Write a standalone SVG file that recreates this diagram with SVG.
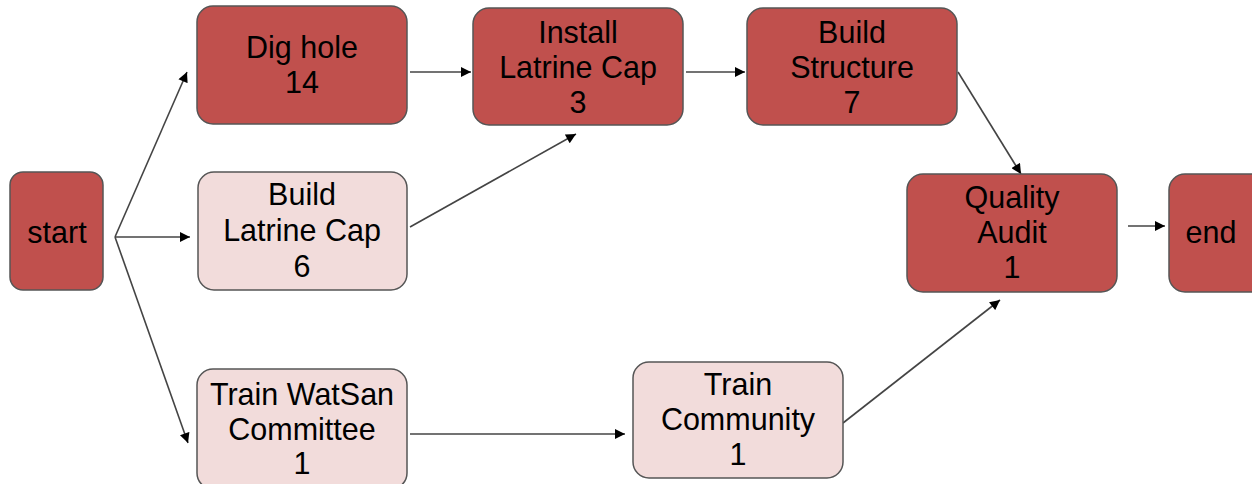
<svg xmlns="http://www.w3.org/2000/svg" width="1252" height="484" viewBox="0 0 1252 484">
  <defs>
    <marker id="arrow" viewBox="0 0 10 10" refX="10" refY="5" markerWidth="11" markerHeight="10" markerUnits="userSpaceOnUse" orient="auto">
      <path d="M0,0 L10,5 L0,10 z" fill="#000"/>
    </marker>
    <style>
      .task rect { stroke: #555; stroke-width: 1.5; }
      .crit rect { fill: #C0504D; }
      .slack rect { fill: #F2DCDB; }
      .task text { font-family: "Liberation Sans", Arial, sans-serif; font-size: 30.5px; fill: #000; text-anchor: middle; }
      .edges line { stroke: #444; stroke-width: 1.6; marker-end: url(#arrow); }
    </style>
  </defs>
  <rect width="1252" height="484" fill="#fff"/>

  <g class="edges">
    <line x1="115" y1="237" x2="187" y2="72"/>
    <line x1="115" y1="237" x2="190" y2="237"/>
    <line x1="115" y1="237" x2="188" y2="443"/>
    <line x1="410" y1="72" x2="471" y2="72"/>
    <line x1="410" y1="227" x2="576" y2="134"/>
    <line x1="686" y1="72" x2="745" y2="72"/>
    <line x1="958" y1="72" x2="1021" y2="174"/>
    <line x1="410" y1="434" x2="625" y2="434"/>
    <line x1="843" y1="423" x2="1000" y2="300"/>
    <line x1="1128" y1="226" x2="1165" y2="226"/>
  </g>

  <g id="start" class="task crit">
    <rect x="10" y="172" width="93" height="118" rx="13"/>
    <text x="57" y="243">start</text>
  </g>

  <g id="dig-hole" class="task crit">
    <rect x="197" y="6" width="210" height="118" rx="16"/>
    <text x="302" y="58">Dig hole</text>
    <text x="302" y="93">14</text>
  </g>

  <g id="install-cap" class="task crit">
    <rect x="473" y="8" width="210" height="117" rx="16"/>
    <text x="578" y="43">Install</text>
    <text x="578" y="78">Latrine Cap</text>
    <text x="578" y="113">3</text>
  </g>

  <g id="build-structure" class="task crit">
    <rect x="747" y="8" width="210" height="117" rx="16"/>
    <text x="852" y="43">Build</text>
    <text x="852" y="78">Structure</text>
    <text x="852" y="113">7</text>
  </g>

  <g id="build-cap" class="task slack">
    <rect x="198" y="172" width="209" height="118" rx="16"/>
    <text x="302" y="205">Build</text>
    <text x="302" y="241">Latrine Cap</text>
    <text x="302" y="277">6</text>
  </g>

  <g id="quality-audit" class="task crit">
    <rect x="907" y="174" width="210" height="118" rx="16"/>
    <text x="1012" y="208">Quality</text>
    <text x="1012" y="243">Audit</text>
    <text x="1012" y="278">1</text>
  </g>

  <g id="end" class="task crit">
    <rect x="1169" y="174" width="100" height="118" rx="16"/>
    <text x="1211" y="243">end</text>
  </g>

  <g id="train-watsan" class="task slack">
    <rect x="197" y="369" width="210" height="120" rx="16"/>
    <text x="302" y="405">Train WatSan</text>
    <text x="302" y="440">Committee</text>
    <text x="302" y="474">1</text>
  </g>

  <g id="train-community" class="task slack">
    <rect x="633" y="362" width="210" height="116" rx="16"/>
    <text x="738" y="395">Train</text>
    <text x="738" y="430">Community</text>
    <text x="738" y="465">1</text>
  </g>
</svg>
